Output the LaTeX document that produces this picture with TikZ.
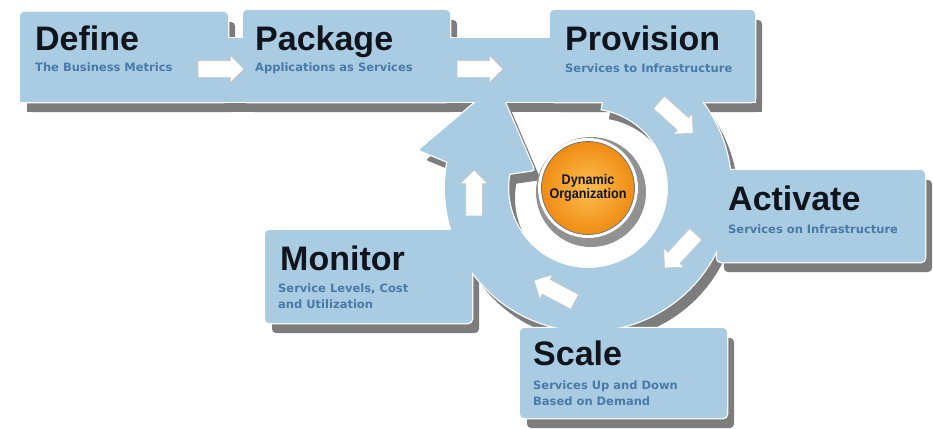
\documentclass[tikz,border=0pt]{standalone}
\usepackage{fontspec}
\setmainfont{Liberation Sans}
\newfontfamily\subfont{DejaVu Sans}
\newfontfamily\dynfont[FakeStretch=0.9]{Liberation Sans}
\usepackage{tikz}
\usetikzlibrary{shapes.arrows}
\definecolor{cyclefill}{RGB}{169,204,227}
\definecolor{cycleshadow}{RGB}{125,125,125}
\definecolor{subblue}{RGB}{72,122,168}
\definecolor{titleblack}{RGB}{16,20,28}
\definecolor{orangein}{RGB}{252,190,80}
\definecolor{orangeout}{RGB}{240,140,20}

% the band, the tabs, the ring and its head, drawn as one shape
\newcommand{\cycleparts}[1]{%
	\path[#1] (20,-38) rectangle (755,-102);
	\path[#1,rounded corners=4pt] (20,-12) rectangle (228,-102);
	\path[#1,rounded corners=4pt] (243,-10) rectangle (450,-102);
	\path[#1,rounded corners=4pt] (550,-10) rectangle (755,-102);
	\path[#1,rounded corners=4pt] (717,-170) rectangle (925,-262);
	\path[#1,rounded corners=4pt] (265,-230) rectangle (472,-323);
	\path[#1,rounded corners=4pt] (520,-328) rectangle (727,-418);
	\path[#1] ([shift={(588,-188)}]80:143) arc[start angle=80,end angle=-200,radius=143]
		-- ([shift={(588,-188)}]160:80) arc[start angle=160,end angle=440,radius=80] -- cycle;
	\path[#1,rounded corners=2pt] (448,-162) -- (419,-150) -- (497,-84) -- (534,-170) -- (507,-174) -- cycle;
}

\begin{document}
\begin{tikzpicture}[x=1pt,y=1pt,
		title/.style={font=\fontsize{34}{34}\selectfont\bfseries,text=titleblack,inner sep=0pt,anchor=base west},
		sub/.style={font=\subfont\fontsize{11.5}{16}\selectfont\bfseries,text=subblue,inner sep=0pt,align=left,anchor=base west},
		flowarrow/.style={single arrow,draw=gray!45,fill=white,line width=0.6pt,inner xsep=0pt,inner ysep=8pt,
			minimum height=46pt,single arrow head extend=5.5pt}]
	\useasboundingbox (0,0) rectangle (933,-428);

	\cycleparts{fill=cycleshadow,shift={(7,-10)}}
	\cycleparts{draw=white,line width=2.5pt}
	\cycleparts{fill=cyclefill}

	\node[title] (define) at (35,-50) {Define};
	\node[sub] (define-sub) at (35,-71) {The Business Metrics};
	\node[title] (package) at (255,-50) {Package};
	\node[sub] (package-sub) at (255,-71) {Applications as Services};
	\node[title] (provision) at (565,-50) {Provision};
	\node[sub] (provision-sub) at (565,-72) {Services to Infrastructure};
	\node[title] (activate) at (728,-210) {Activate};
	\node[sub] (activate-sub) at (728,-233) {Services on Infrastructure};
	\node[title] (monitor) at (280,-270) {Monitor};
	% two-line texts sit on their last line
	\node[sub] (monitor-sub) at (278,-308) {Service Levels, Cost\\and Utilization};
	\node[title] (scale) at (533,-365) {Scale};
	\node[sub] (scale-sub) at (533,-405) {Services Up and Down\\Based on Demand};

	\foreach \pos/\ang [count=\i] in {{(217,-69)}/0,{(476,-69)}/0,{(673,-115)}/-42,
			{(683,-248)}/-133,{(558,-293)}/152,{(474,-197)}/90}{
		\node[flowarrow,rotate=\ang] (arrow\i) at \pos {};}

	\fill[cycleshadow!85] (591,-192) circle (55);
	\fill[white] (588,-188) circle (50);
	\node[circle,minimum size=93pt,inner sep=0pt,draw=black!55,line width=0.8pt,
		inner color=orangein,outer color=orangeout,text=titleblack,align=center,
		font=\dynfont\bfseries\fontsize{14}{13}\selectfont] (dynamic) at (588,-188) {Dynamic\\Organization};
\end{tikzpicture}
\end{document}
